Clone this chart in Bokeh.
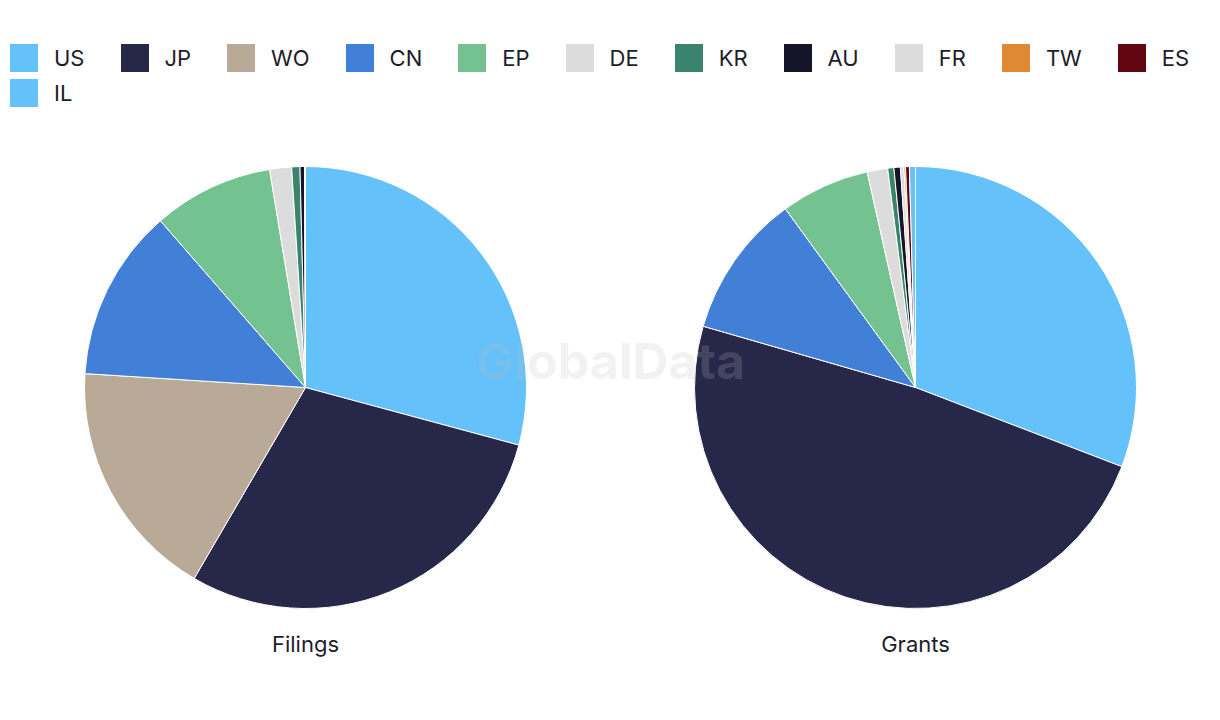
import math
from bokeh.plotting import figure
from bokeh.models import ColumnDataSource, Legend, LegendItem, Range1d
from bokeh.core.properties import value
from bokeh.embed import file_html
from bokeh.resources import INLINE

categories = ["US", "JP", "WO", "CN", "EP", "DE", "KR", "AU", "FR", "TW", "ES", "IL"]
colors = ["#64c1f9", "#27274a", "#b8aa96", "#427fd6", "#74c290", "#dcdcdc",
          "#3a836c", "#141529", "#dcdcdc", "#e08935", "#620711", "#64c1f9"]
filings = [29.2, 29.2, 17.6, 12.6, 8.8, 1.6, 0.6, 0.35, 0.02, 0.01, 0.01, 0.01]
grants = [30.8, 48.6, 0.0, 10.5, 6.5, 1.5, 0.45, 0.47, 0.25, 0.12, 0.28, 0.44]
pie_titles = ["Filings", "Grants"]

W, H = 1220, 720
TEXT = "#1d1d2b"

p = figure(width=W, height=H, output_backend="svg", toolbar_location=None,
           x_range=Range1d(0, W), y_range=Range1d(0, H), min_border=0,
           outline_line_color=None)
p.xaxis.visible = False
p.yaxis.visible = False
p.grid.visible = False


def wedge_source(vals, cx, cy):
    total = sum(vals)
    data = dict(x=[], y=[], start=[], end=[], color=[], cat=[], val=[])
    acc = 0.0
    for v, c, k in zip(vals, colors, categories):
        a0 = math.pi / 2 - 2 * math.pi * acc / total
        acc += v
        a1 = math.pi / 2 - 2 * math.pi * acc / total
        if v <= 0:
            continue
        data["x"].append(cx)
        data["y"].append(cy)
        data["start"].append(a0)
        data["end"].append(a1)
        data["color"].append(c)
        data["cat"].append(k)
        data["val"].append(v)
    return ColumnDataSource(data)


centers_x = [305, 915]
center_y = H - 387
radius = 221

for series, cx, title in zip([filings, grants], centers_x, pie_titles):
    src = wedge_source(series, cx, center_y)
    p.wedge(x="x", y="y", radius=radius, start_angle="start", end_angle="end",
            direction="clock", fill_color="color", line_color="white",
            line_width=1, source=src)
    p.text(x=[cx], y=[H - 643], text=[title], text_align="center",
           text_baseline="middle", text_font=value("Inter"),
           text_font_size="22px", text_color=TEXT)

# watermark
p.text(x=[W / 2], y=[H - 360], text=["GlobalData"], text_align="center",
       text_baseline="middle", text_font=value("Inter"), text_font_style="bold",
       text_font_size="50px", text_color="#bcbcbc", text_alpha=0.2)

# legend (two rows)
nan = float("nan")
lsrc = ColumnDataSource(dict(x=[nan] * len(categories), y=[nan] * len(categories),
                             color=colors, cat=categories))
lr = p.rect(x="x", y="y", width=1, height=1, fill_color="color", line_color=None,
            source=lsrc)
items = [LegendItem(label=c, renderers=[lr], index=i) for i, c in enumerate(categories)]

common = dict(orientation="horizontal", glyph_width=35, glyph_height=35,
              label_standoff=13, spacing=32, padding=0, margin=0,
              border_line_color=None, background_fill_alpha=0,
              label_text_font="Inter", label_text_font_size="22px",
              label_text_color=TEXT, label_height=35)
leg1 = Legend(items=items[:11], location=(6, H - 75), **common)
leg2 = Legend(items=items[11:], location=(6, H - 110), **common)
p.add_layout(leg1, "center")
p.add_layout(leg2, "center")

open("out.html", "w").write(file_html(p, INLINE))
